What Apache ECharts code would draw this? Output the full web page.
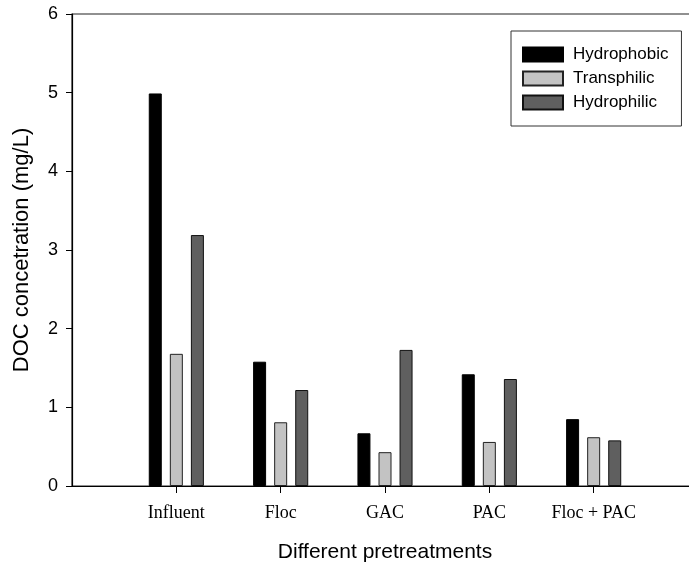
<!DOCTYPE html>
<html>
<head>
<meta charset="utf-8">
<script src="https://cdn.jsdelivr.net/npm/echarts@6/dist/echarts.min.js"></script>
<style>html,body{margin:0;padding:0;background:#fff}#c{width:689px;height:569px}</style>
</head>
<body>
<div id="c"></div>
<script>
const categories = ['', 'Influent', 'Floc', 'GAC', 'PAC', 'Floc + PAC', ''];
const hydrophobic = [null, 4.99, 1.58, 0.67, 1.42, 0.85, null];
const transphilic = [null, 1.68, 0.81, 0.43, 0.56, 0.62, null];
const hydrophilic = [null, 3.19, 1.22, 1.73, 1.36, 0.58, null];
const yTicks = [0, 1, 2, 3, 4, 5, 6];

const chart = echarts.init(document.getElementById('c'));
const sans = 'Liberation Sans, Arial, sans-serif';
const serif = 'Liberation Serif, Times New Roman, serif';
chart.setOption({
  animation: false,
  backgroundColor: '#fff',
  grid: { left: 72, top: 14, width: 626, height: 472, outerBoundsMode: 'none', containLabel: false,
    show: true, borderColor: '#222', borderWidth: 1.2, backgroundColor: 'transparent' },
  legend: {
    orient: 'vertical', left: 511, top: 31,
    itemWidth: 40, itemHeight: 14, itemGap: 7,
    padding: [15, 13, 15, 11],
    borderColor: '#333', borderWidth: 1, borderRadius: 0,
    textStyle: { fontFamily: sans, fontSize: 17, color: '#000', lineHeight: 14, padding: [0, 0, 0, 5] },
    icon: 'rect'
  },
  xAxis: {
    type: 'category', data: categories, boundaryGap: false,
    name: 'Different pretreatments', nameLocation: 'middle', nameGap: 56,
    nameTextStyle: { fontFamily: sans, fontSize: 21, color: '#000' },
    axisLine: { lineStyle: { color: '#000', width: 1.2 } },
    axisTick: { inside: false, length: 7, lineStyle: { color: '#000' }, interval: (i, v) => v !== '' },
    axisLabel: { fontFamily: serif, fontSize: 18, color: '#000', margin: 18, interval: 0 },
    splitLine: { show: false }
  },
  yAxis: {
    type: 'value', min: yTicks[0], max: yTicks[yTicks.length - 1], interval: 1,
    name: 'DOC concetration (mg/L)', nameLocation: 'middle', nameGap: 39,
    nameTextStyle: { fontFamily: sans, fontSize: 22, color: '#000' },
    axisLine: { show: true, lineStyle: { color: '#000', width: 1.2 } },
    axisTick: { show: true, inside: false, length: 6, lineStyle: { color: '#000' } },
    axisLabel: { fontFamily: sans, fontSize: 18, color: '#000', margin: 14 },
    splitLine: { show: false }
  },
  series: [
    { name: 'Hydrophobic', type: 'bar', data: hydrophobic, barWidth: 13, barGap: '62%',
      itemStyle: { color: '#000000', borderColor: '#000', borderWidth: 1 } },
    { name: 'Transphilic', type: 'bar', data: transphilic, barWidth: 13, barGap: '62%',
      itemStyle: { color: '#c3c3c3', borderColor: '#222', borderWidth: 1 } },
    { name: 'Hydrophilic', type: 'bar', data: hydrophilic, barWidth: 13, barGap: '62%',
      itemStyle: { color: '#5f5f5f', borderColor: '#111', borderWidth: 1 } }
  ]
});
</script>
</body>
</html>
